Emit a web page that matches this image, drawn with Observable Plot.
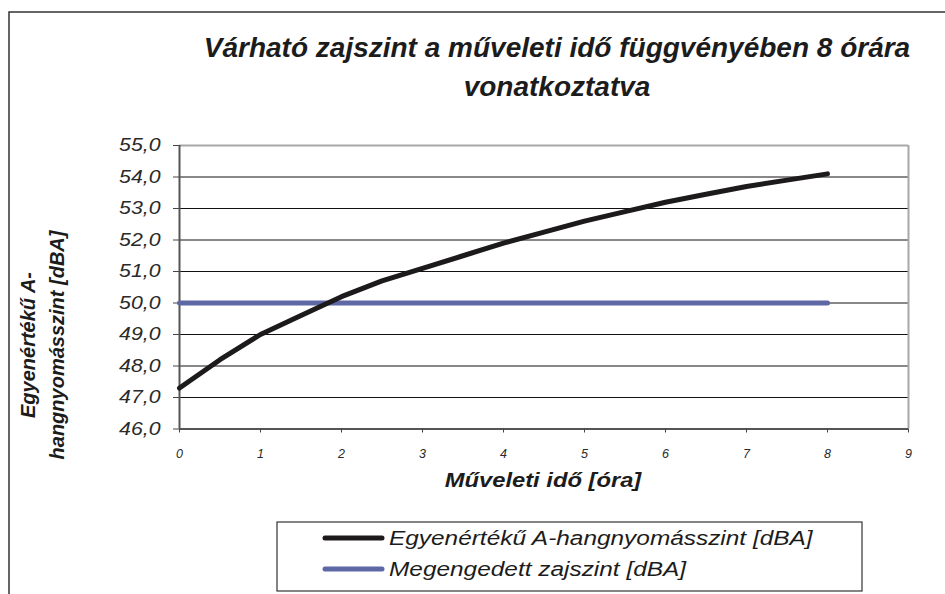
<!DOCTYPE html>
<html>
<head>
<meta charset="utf-8">
<script src="https://cdn.jsdelivr.net/npm/d3@7"></script>
<script src="https://cdn.jsdelivr.net/npm/@observablehq/plot@0.6"></script>
<style>
  html, body { margin: 0; padding: 0; background: #fff; }
</style>
</head>
<body>
<script>
// ---- data ----
const hours = [0, 0.5, 1, 1.5, 2, 2.5, 3, 3.5, 4, 4.5, 5, 5.5, 6, 6.5, 7, 7.5, 8];
const equivalentLevel = [47.3, 48.2, 49.0, 49.6, 50.2, 50.7, 51.1, 51.5, 51.9, 52.25, 52.6, 52.9, 53.2, 53.45, 53.7, 53.9, 54.1];
const allowedLevel = [50, 50, 50, 50, 50, 50, 50, 50, 50, 50, 50, 50, 50, 50, 50, 50, 50];
const yTicks = [46, 47, 48, 49, 50, 51, 52, 53, 54, 55];
const xTicks = [0, 1, 2, 3, 4, 5, 6, 7, 8, 9];
const gridValues = [47, 48, 49, 50, 51, 52, 53, 54];
const titleLines = ["Várható zajszint a műveleti idő függvényében 8 órára", "vonatkoztatva"];
const yLabelLines = ["Egyenértékű A-", "hangnyomásszint [dBA]"];
const xLabel = "Műveleti idő [óra]";
const seriesNames = ["Egyenértékű A-hangnyomásszint [dBA]", "Megengedett zajszint [dBA]"];
const seriesColors = ["#1c1a1b", "#5d68a5"];

const curve = hours.map((h, i) => ({h, v: equivalentLevel[i]}));
const limit = hours.map((h, i) => ({h, v: allowedLevel[i]}));

const FONT = "'Liberation Sans', Arial, Helvetica, sans-serif";

const svg = Plot.plot({
  width: 945,
  height: 594,
  marginLeft: 179,
  marginRight: 37,
  marginTop: 145,
  marginBottom: 165.5,
  style: {fontFamily: FONT, background: "#fff", color: "#2a2a2a", overflow: "visible"},
  x: {domain: [0, 9]},
  y: {domain: [46, 55]},
  marks: [
    Plot.ruleY(gridValues, {stroke: "#111", strokeWidth: 1}),
    Plot.ruleY([55], {stroke: "#a8a8a8", strokeWidth: 2}),
    Plot.ruleX([9], {stroke: "#a8a8a8", strokeWidth: 2}),
    Plot.ruleX([0], {stroke: "#555", strokeWidth: 2}),
    Plot.ruleY([46], {stroke: "#555", strokeWidth: 2}),
    Plot.axisY({
      ticks: yTicks, tickSize: 6, tickPadding: 13, label: null,
      tickFormat: d => d.toFixed(1).replace(".", ","),
      fontSize: 18, fontStyle: "italic", stroke: "#444"
    }),
    Plot.axisX({
      ticks: xTicks, tickSize: 4, tickPadding: 16, label: null,
      tickFormat: d => String(d),
      fontSize: 12.5, fontStyle: "italic", stroke: "#444"
    }),
    Plot.line(limit, {x: "h", y: "v", stroke: seriesColors[1], strokeWidth: 5, strokeLinecap: "round", strokeLinejoin: "round"}),
    Plot.line(curve, {x: "h", y: "v", stroke: seriesColors[0], strokeWidth: 5, strokeLinecap: "round", strokeLinejoin: "round"})
  ]
});

document.body.append(svg);
const root = d3.select(svg);

// outer frame of the chart object (top and left edges visible)
root.append("path")
  .attr("d", "M9,600 L9,12 L950,12")
  .attr("fill", "none").attr("stroke", "#333").attr("stroke-width", 1.5);

// title
const title = root.append("g").attr("font-family", FONT).attr("font-weight", "bold")
  .attr("font-style", "italic").attr("font-size", 28).attr("fill", "#1c1c1c").attr("text-anchor", "middle");
titleLines.forEach((t, i) => title.append("text").attr("x", 557).attr("y", 57 + i * 39).text(t));

// y-axis title (rotated, two lines)
const yl = root.append("g").attr("font-family", FONT).attr("font-weight", "bold")
  .attr("font-style", "italic").attr("font-size", 20).attr("fill", "#1c1c1c").attr("text-anchor", "middle");
yLabelLines.forEach((t, i) => {
  const bx = 35 + i * 29;
  yl.append("text").attr("transform", `translate(${bx},345) rotate(-90)`).text(t);
});

// x-axis title
root.append("text")
  .attr("class", "stretch").attr("data-f", 1.13)
  .attr("x", 543).attr("y", 487).attr("text-anchor", "middle")
  .attr("font-family", FONT).attr("font-weight", "bold").attr("font-style", "italic")
  .attr("font-size", 21).attr("fill", "#1c1c1c").text(xLabel);

// legend
const lg = root.append("g").attr("text-anchor", "start");
lg.append("rect").attr("x", 277).attr("y", 522).attr("width", 585).attr("height", 69)
  .attr("fill", "#fff").attr("stroke", "#333").attr("stroke-width", 1.2);
seriesNames.forEach((name, i) => {
  const cy = 538 + i * 31;
  lg.append("line").attr("x1", 325).attr("x2", 382).attr("y1", cy).attr("y2", cy)
    .attr("stroke", seriesColors[i]).attr("stroke-width", 5).attr("stroke-linecap", "round");
  lg.append("text").attr("class", "stretch").attr("data-f", 1.22)
    .attr("x", 389).attr("y", cy + 7).attr("text-anchor", "start")
    .attr("font-family", FONT).attr("font-style", "italic").attr("font-size", 20)
    .attr("fill", "#1c1c1c").text(name);
});

// widen glyphs to match the reference's wide lettering
root.selectAll('g[aria-label="y-axis tick label"] text').attr("class", "stretch").attr("data-f", 1.18);
root.selectAll("text.stretch").each(function () {
  const f = +this.getAttribute("data-f");
  const len = this.getComputedTextLength();
  this.setAttribute("textLength", (len * f).toFixed(1));
  this.setAttribute("lengthAdjust", "spacingAndGlyphs");
});
</script>
</body>
</html>
